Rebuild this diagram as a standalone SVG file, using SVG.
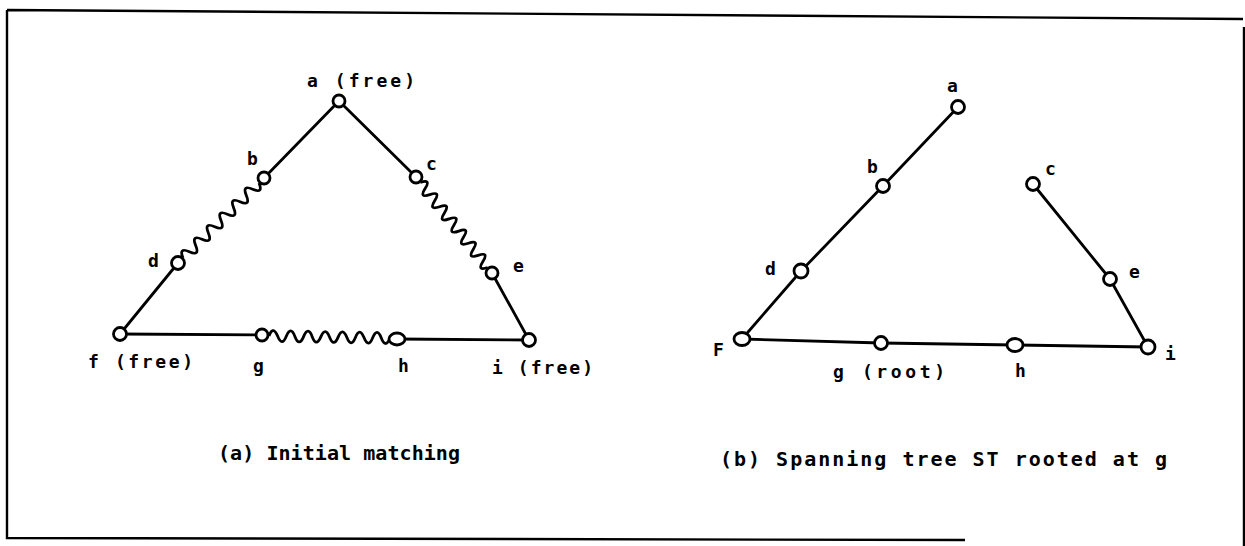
<svg xmlns="http://www.w3.org/2000/svg" width="1245" height="546" viewBox="0 0 1245 546">
<style>
.edge{stroke:#000;stroke-width:2.8;fill:none;stroke-linecap:round}
.wave{stroke:#000;stroke-width:2.8;fill:none;stroke-linejoin:round}
.node{fill:#fff;stroke:#000;stroke-width:2.8}
.lbl{font-family:"DejaVu Sans Mono","Liberation Mono",monospace;font-weight:bold;font-size:18px;fill:#000}
.cap{font-family:"DejaVu Sans Mono","Liberation Mono",monospace;font-weight:bold;font-size:20px;fill:#000}
.frame{stroke:#000;stroke-width:2.4;fill:none}
</style>
<rect width="1245" height="546" fill="#fff"/>
<path class="frame" d="M7,10 L1243,19 M7,10 L7,538 L965,540 M1244,27 L1244,546"/>
<g id="connectors">
  <line class="edge" x1="339" y1="101" x2="264" y2="178"/>
  <line class="edge" x1="339" y1="101" x2="416" y2="177"/>
  <line class="edge" x1="178" y1="263" x2="120" y2="334"/>
  <line class="edge" x1="492" y1="273" x2="529" y2="340"/>
  <line class="edge" x1="120" y1="334" x2="262" y2="335"/>
  <line class="edge" x1="397" y1="339" x2="529" y2="340"/>
  <path class="wave" d="M183,258 Q178.4,246.9 189.33,251.75 T195.67,245.5 T202,239.25 T208.33,233 T214.67,226.75 T221,220.5 T227.33,214.25 T233.67,208 T240,201.75 T246.33,195.5 T252.67,189.25 T259,183"/>
  <path class="wave" d="M420.3,182.5 Q431.4,178.7 425.1,188.6 T429.9,194.6 T434.7,200.7 T439.6,206.8 T444.4,212.9 T449.2,218.9 T454,225 T458.8,231.1 T463.6,237.1 T468.4,243.2 T473.3,249.3 T478.1,255.4 T482.9,261.4 T487.7,267.5"/>
  <path class="wave" d="M269,336 Q273.3,325 277.6,336.1 T286.3,336.3 T294.9,336.4 T303.6,336.6 T312.2,336.7 T320.8,336.9 T329.5,337 T338.1,337.1 T346.8,337.3 T355.4,337.4 T364,337.6 T372.7,337.7 T381.3,337.9 T390,338"/>
  <line class="edge" x1="958" y1="107" x2="883" y2="186"/>
  <line class="edge" x1="883" y1="186" x2="801" y2="271"/>
  <line class="edge" x1="801" y1="271" x2="742" y2="339"/>
  <line class="edge" x1="742" y1="339" x2="881" y2="343"/>
  <line class="edge" x1="881" y1="343" x2="1015" y2="345"/>
  <line class="edge" x1="1015" y1="345" x2="1148" y2="347"/>
  <line class="edge" x1="1033" y1="184" x2="1110" y2="279"/>
  <line class="edge" x1="1110" y1="279" x2="1148" y2="347"/>
</g>
<g id="a1"><circle class="node" cx="339" cy="101" r="6"/><text class="lbl" x="307" y="87" textLength="108" lengthAdjust="spacing">a (free)</text></g>
<g id="b1"><circle class="node" cx="264" cy="178" r="6"/><text class="lbl" x="247" y="165">b</text></g>
<g id="c1"><circle class="node" cx="416" cy="177" r="6"/><text class="lbl" x="426" y="170">c</text></g>
<g id="d1"><circle class="node" cx="178" cy="263" r="6.5"/><text class="lbl" x="148" y="267">d</text></g>
<g id="e1"><circle class="node" cx="492" cy="273" r="6"/><text class="lbl" x="513" y="272">e</text></g>
<g id="f1"><circle class="node" cx="120" cy="334" r="6.5"/><text class="lbl" x="88" y="368" textLength="105" lengthAdjust="spacing">f (free)</text></g>
<g id="g1"><circle class="node" cx="262" cy="335" r="6"/><text class="lbl" x="253" y="372">g</text></g>
<g id="h1"><ellipse class="node" cx="397" cy="339" rx="8" ry="6"/><text class="lbl" x="398" y="372">h</text></g>
<g id="i1"><circle class="node" cx="529" cy="340" r="6.5"/><text class="lbl" x="492" y="374" textLength="101" lengthAdjust="spacing">i (free)</text></g>
<g id="a2"><circle class="node" cx="958" cy="107" r="6.5"/><text class="lbl" x="947" y="92">a</text></g>
<g id="b2"><circle class="node" cx="883" cy="186" r="6.5"/><text class="lbl" x="867" y="173">b</text></g>
<g id="c2"><circle class="node" cx="1033" cy="184" r="6.5"/><text class="lbl" x="1045" y="175">c</text></g>
<g id="d2"><circle class="node" cx="801" cy="271" r="7"/><text class="lbl" x="765" y="275">d</text></g>
<g id="e2"><circle class="node" cx="1110" cy="279" r="6.5"/><text class="lbl" x="1129" y="278">e</text></g>
<g id="f2"><ellipse class="node" cx="742" cy="339" rx="8" ry="6.5"/><text class="lbl" x="713" y="356">F</text></g>
<g id="g2"><circle class="node" cx="881" cy="343" r="6.5"/><text class="lbl" x="833" y="378" textLength="112" lengthAdjust="spacing">g (root)</text></g>
<g id="h2"><ellipse class="node" cx="1015" cy="345" rx="8" ry="6.5"/><text class="lbl" x="1015" y="377">h</text></g>
<g id="i2"><circle class="node" cx="1148" cy="347" r="7"/><text class="lbl" x="1165" y="360">i</text></g>
<g id="captions">
  <text class="cap" x="218" y="460" textLength="242" lengthAdjust="spacing">(a) Initial matching</text>
  <text class="cap" x="720" y="466" textLength="447" lengthAdjust="spacing">(b) Spanning tree ST rooted at g</text>
</g>
</svg>
